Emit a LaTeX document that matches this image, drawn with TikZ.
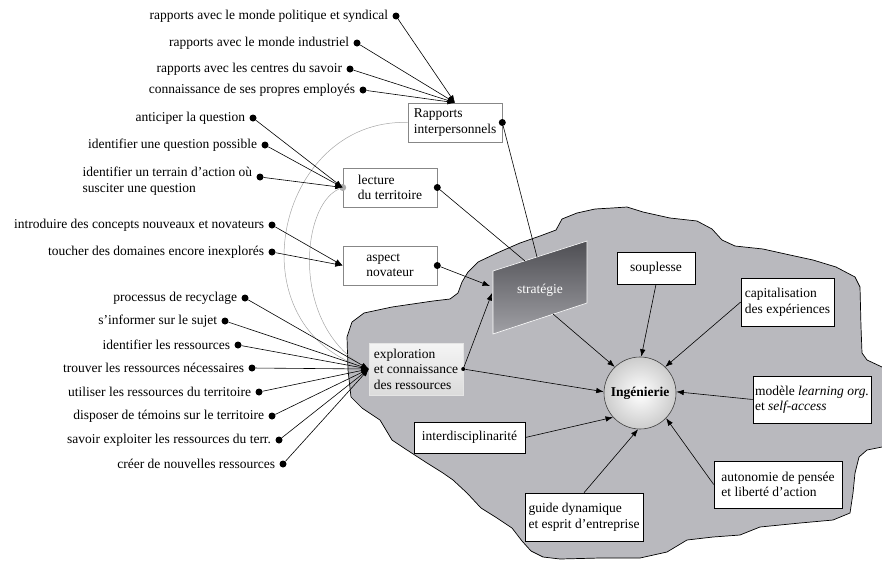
\documentclass[tikz,border=0pt]{standalone}
\usepackage{fontspec}
\setmainfont{Liberation Serif}
\usetikzlibrary{arrows.meta,positioning}
\definecolor{blobgray}{RGB}{185,185,190}
\definecolor{boxline}{RGB}{135,135,135}
\definecolor{strtop}{RGB}{78,78,83}
\definecolor{strbot}{RGB}{160,160,165}

\begin{document}
\begin{tikzpicture}[x=1pt,y=-1pt,>={Latex[length=7.5pt,width=5.5pt]},
  font=\fontsize{13.5}{15.5}\selectfont,label distance=3pt,
  dot/.style={circle,fill=black,inner sep=0pt,minimum size=7pt},
  lbl/.style={inner sep=1pt,align=left},
  outer box/.style={draw=boxline,fill=white,align=left,inner sep=2pt,line width=0.6pt},
  inner box/.style={draw=black,fill=white,align=left,inner sep=2pt,line width=0.6pt},
  tie/.style={draw,->,line width=0.6pt},
  link/.style={draw,line width=0.6pt}]
  \useasboundingbox (0,0) rectangle (882,560);

  \filldraw[fill=blobgray,draw=black,line width=0.7pt]
    (347,337) -- (352,322) -- (364,313) -- (392,307) -- (433,301) -- (450,299) -- (458,293)
    -- (462,282) -- (468,272) -- (478,262) -- (497,253) -- (520,243) -- (540,236) -- (556,230)
    -- (562,219) -- (577,213) -- (595,209) -- (612,208) -- (627,207) -- (643,212) -- (670,218)
    -- (697,221) -- (712,229) -- (722,240) -- (735,246) -- (763,249) -- (790,255) -- (813,260)
    -- (836,267) -- (855,277) -- (860,287) -- (861,327) -- (862,353) -- (867,360) -- (882,367)
    -- (890,367) -- (890,447) -- (882,447) -- (867,450) -- (859,457) -- (855,473) -- (853,493)
    -- (850,513) -- (833,520) -- (800,523) -- (760,527) -- (740,535) -- (713,537) -- (687,540)
    -- (667,552) -- (640,558) -- (600,558) -- (560,559) -- (543,557) -- (531,551) -- (522,541)
    -- (512,528) -- (497,518) -- (481,508) -- (467,493) -- (453,480) -- (443,473) -- (427,463)
    -- (407,450) -- (392,440) -- (380,420) -- (362,408) -- (351,397) -- (348,370) -- cycle;

  \shade[top color=strtop,bottom color=strbot,draw=white,line width=0.6pt]
    (493,271) -- (587,241) -- (587,303) -- (493,334) -- cycle;
  \node[text=white] (strat) at (540,290) {stratégie};
  \coordinate (stTopA) at (525,261);
  \coordinate (stTopB) at (537,257);
  \coordinate (stLeftA) at (490,286);
  \coordinate (stLeftB) at (492,293);
  \coordinate (stBot) at (553,314);

  \node[outer box,minimum width=94pt,minimum height=39pt] (rap) at (455,122.5) {Rapports\\interpersonnels};
  \node[outer box,minimum width=94pt,minimum height=39pt] (lect) at (390,187.5) {lecture\\du territoire};
  \node[outer box,minimum width=94pt,minimum height=39pt] (asp) at (390,265.5) {aspect\\novateur};
  \node[draw=gray!20,top color=gray!8,bottom color=gray!28,align=left,inner sep=2pt,
    minimum width=94pt,minimum height=52pt] (expl) at (416,369) {exploration\\et connaissance\\des ressources};

  \node[inner box,align=center,minimum width=78pt,minimum height=32pt] (soup) at (656,268) {souplesse};
  \node[inner box,minimum width=93pt,minimum height=48pt,inner sep=1pt] (capi) at (787.5,302) {capitalisation\\des expériences};
  \node[inner box,minimum width=118pt,minimum height=47pt] (mod) at (812,399.5) {modèle \textit{learning org.}\\et \textit{self-access}};
  \node[inner box,minimum width=128pt,minimum height=47pt] (auto) at (778,484.5) {autonomie de pensée\\et liberté d’action};
  \node[inner box,minimum width=118pt,minimum height=48pt] (guide) at (584,517) {guide dynamique\\et esprit d’entreprise};
  \node[inner box,minimum width=111pt,minimum height=31pt] (inter) at (469.5,437.5) {interdisciplinarité};
  \node[circle,draw=black!75,line width=0.6pt,inner color=white,outer color=gray!40,
    minimum size=72pt] (ing) at (640,393) {\bfseries Ingénierie};

  \node[dot] (rd) at (rap.east) {};
  \node[dot] (td) at (lect.east) {};
  \node[dot] (ad) at (asp.east) {};
  \node[dot,minimum size=4pt] (xd) at (expl.east) {};
  \node[dot,fill=gray!65] (gd) at (lect.west) {};

  \node[dot,label={[lbl]left:rapports avec le monde politique et syndical}] (r1) at (396,16) {};
  \node[dot,label={[lbl]left:rapports avec le monde industriel}] (r2) at (357,43) {};
  \node[dot,label={[lbl]left:rapports avec les centres du savoir}] (r3) at (350,69) {};
  \node[dot,label={[lbl]left:connaissance de ses propres employés}] (r4) at (363,90) {};

  \node[dot,label={[lbl]left:anticiper la question}] (l1) at (253,118) {};
  \node[dot,label={[lbl]left:identifier une question possible}] (l2) at (265,145) {};
  \node[dot,label={[lbl,yshift=-4pt]left:identifier un terrain d’action où\\susciter une question}] (l3) at (260,177) {};

  \node[dot,label={[lbl]left:introduire des concepts nouveaux et novateurs}] (a1) at (272,225) {};
  \node[dot,label={[lbl]left:toucher des domaines encore inexplorés}] (a2) at (272,252) {};

  \node[dot,label={[lbl]left:processus de recyclage}] (e1) at (245,298) {};
  \node[dot,label={[lbl]left:s’informer sur le sujet}] (e2) at (225,321) {};
  \node[dot,label={[lbl]left:identifier les ressources}] (e3) at (238,345) {};
  \node[dot,label={[lbl]left:trouver les ressources nécessaires}] (e4) at (252,368) {};
  \node[dot,label={[lbl]left:utiliser les ressources du territoire}] (e5) at (259,392) {};
  \node[dot,label={[lbl]left:disposer de témoins sur le territoire}] (e6) at (272,416) {};
  \node[dot,label={[lbl]left:savoir exploiter les ressources du terr.}] (e7) at (279,440) {};
  \node[dot,label={[lbl]left:créer de nouvelles ressources}] (e8) at (283,464) {};

  \draw[gray!70,line width=0.5pt] (rap.west) .. controls (275,118) and (230,330) .. (expl.west);
  \draw[gray!70,line width=0.5pt] (gd) .. controls (300,205) and (290,330) .. (expl.west);

  \path (r1) edge[tie] (rap.north)
        (r2) edge[tie] (rap.north)
        (r3) edge[tie] (rap.north)
        (r4) edge[tie] (rap.north)
        (l1) edge[tie] (lect.west)
        (l2) edge[tie] (lect.west)
        (l3) edge[tie] (lect.west)
        (a1) edge[tie] (asp.west)
        (a2) edge[tie] (asp.west)
        (e1) edge[tie] (expl.west)
        (e2) edge[tie] (expl.west)
        (e3) edge[tie] (expl.west)
        (e4) edge[tie] (expl.west)
        (e5) edge[tie] (expl.west)
        (e6) edge[tie] (expl.west)
        (e7) edge[tie] (expl.west)
        (e8) edge[tie] (expl.west);

  \path (rd) edge[link] (stTopB)
        (td) edge[link] (stTopA)
        (ad) edge[tie] (stLeftA)
        (xd) edge[tie] (stLeftB)
        (xd) edge[tie] (ing.178)
        (stBot) edge[tie] (ing.134)
        (soup.south) edge[tie] (ing.88)
        (capi.west) edge[tie] (ing.46)
        (mod.west) edge[tie] (ing.2)
        (auto.west) edge[tie] (ing.316)
        (guide.north) edge[tie] (ing.267)
        (inter.east) edge[tie] (ing.222);
\end{tikzpicture}
\end{document}
